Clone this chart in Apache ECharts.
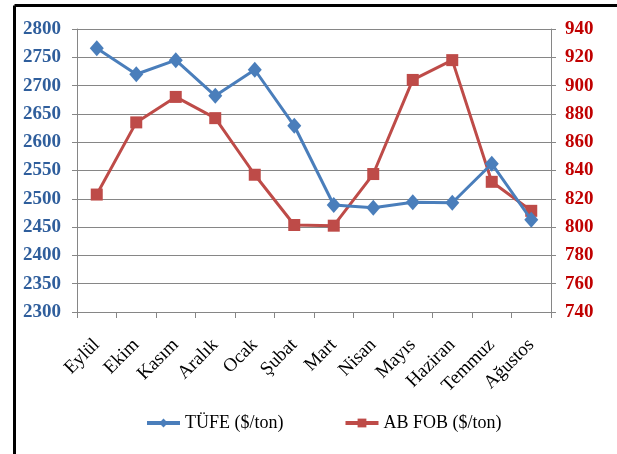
<!DOCTYPE html>
<html><head><meta charset="utf-8">
<script src="https://cdn.jsdelivr.net/npm/echarts@6/dist/echarts.min.js"></script>
<style>html,body{margin:0;padding:0;background:#fff}#c{width:617px;height:454px}</style>
</head><body><div id="c"></div>
<script>
var categories = ['Eylül','Ekim','Kasım','Aralık','Ocak','Şubat','Mart','Nisan','Mayıs','Haziran','Temmuz','Ağustos'];
var tufe = [2766, 2720, 2745, 2682, 2728, 2629, 2489, 2484, 2494, 2493, 2562, 2463];
var abFob = [823, 874, 892, 877, 837, 801.5, 801, 837.5, 904, 918, 832, 811.5];
var seriesNames = ['TÜFE ($/ton)', 'AB FOB ($/ton)'];

var chart = echarts.init(document.getElementById('c'));
var font = 'Liberation Serif';
chart.setOption({
  animation: false,
  backgroundColor: '#fff',
  grid: {left: 77, right: 66, top: 29, bottom: 142},
  graphic: [
    {type: 'line', shape: {x1: 14.5, y1: 5.5, x2: 617, y2: 5.5}, style: {stroke: '#000', lineWidth: 3}},
    {type: 'line', shape: {x1: 14.5, y1: 5.5, x2: 14.5, y2: 454}, style: {stroke: '#000', lineWidth: 3}}
  ],
  legend: {
    left: 140, top: 409,
    itemWidth: 33, itemHeight: 11, itemGap: 60,
    lineStyle: {width: 4},
    textStyle: {fontFamily: font, fontSize: 18, color: '#000'},
    data: seriesNames
  },
  xAxis: {
    type: 'category', data: categories, boundaryGap: true,
    axisLine: {lineStyle: {color: '#868686', width: 1}},
    axisTick: {show: true, length: 6, interval: 0, lineStyle: {color: '#868686'}},
    axisLabel: {rotate: 45, interval: 0, margin: 30, fontFamily: font, fontSize: 19, color: '#000'}
  },
  yAxis: [
    {type: 'value', min: 2300, max: 2800, interval: 50, position: 'left',
     axisLine: {show: true, lineStyle: {color: '#868686'}},
     axisTick: {show: true, length: 5, lineStyle: {color: '#868686'}},
     splitLine: {lineStyle: {color: '#868686', width: 1}},
     axisLabel: {fontFamily: font, fontSize: 19, fontWeight: 'bold', color: '#2F5E9C', margin: 16,
                 formatter: function (v) { return String(v); }}},
    {type: 'value', min: 740, max: 940, interval: 20, position: 'right',
     axisLine: {show: true, lineStyle: {color: '#868686'}},
     axisTick: {show: true, length: 5, lineStyle: {color: '#868686'}},
     splitLine: {show: false},
     axisLabel: {fontFamily: font, fontSize: 19, fontWeight: 'bold', color: '#C00000', margin: 14,
                 formatter: function (v) { return String(v); }}}
  ],
  series: [
    {name: seriesNames[0], type: 'line', yAxisIndex: 0, data: tufe,
     symbol: 'diamond', symbolSize: [14, 16],
     lineStyle: {color: '#4A7EBB', width: 3}, itemStyle: {color: '#4A7EBB'}, z: 3},
    {name: seriesNames[1], type: 'line', yAxisIndex: 1, data: abFob,
     symbol: 'rect', symbolSize: 12,
     lineStyle: {color: '#BE4B48', width: 3}, itemStyle: {color: '#BE4B48'}, z: 2}
  ]
});
</script></body></html>
